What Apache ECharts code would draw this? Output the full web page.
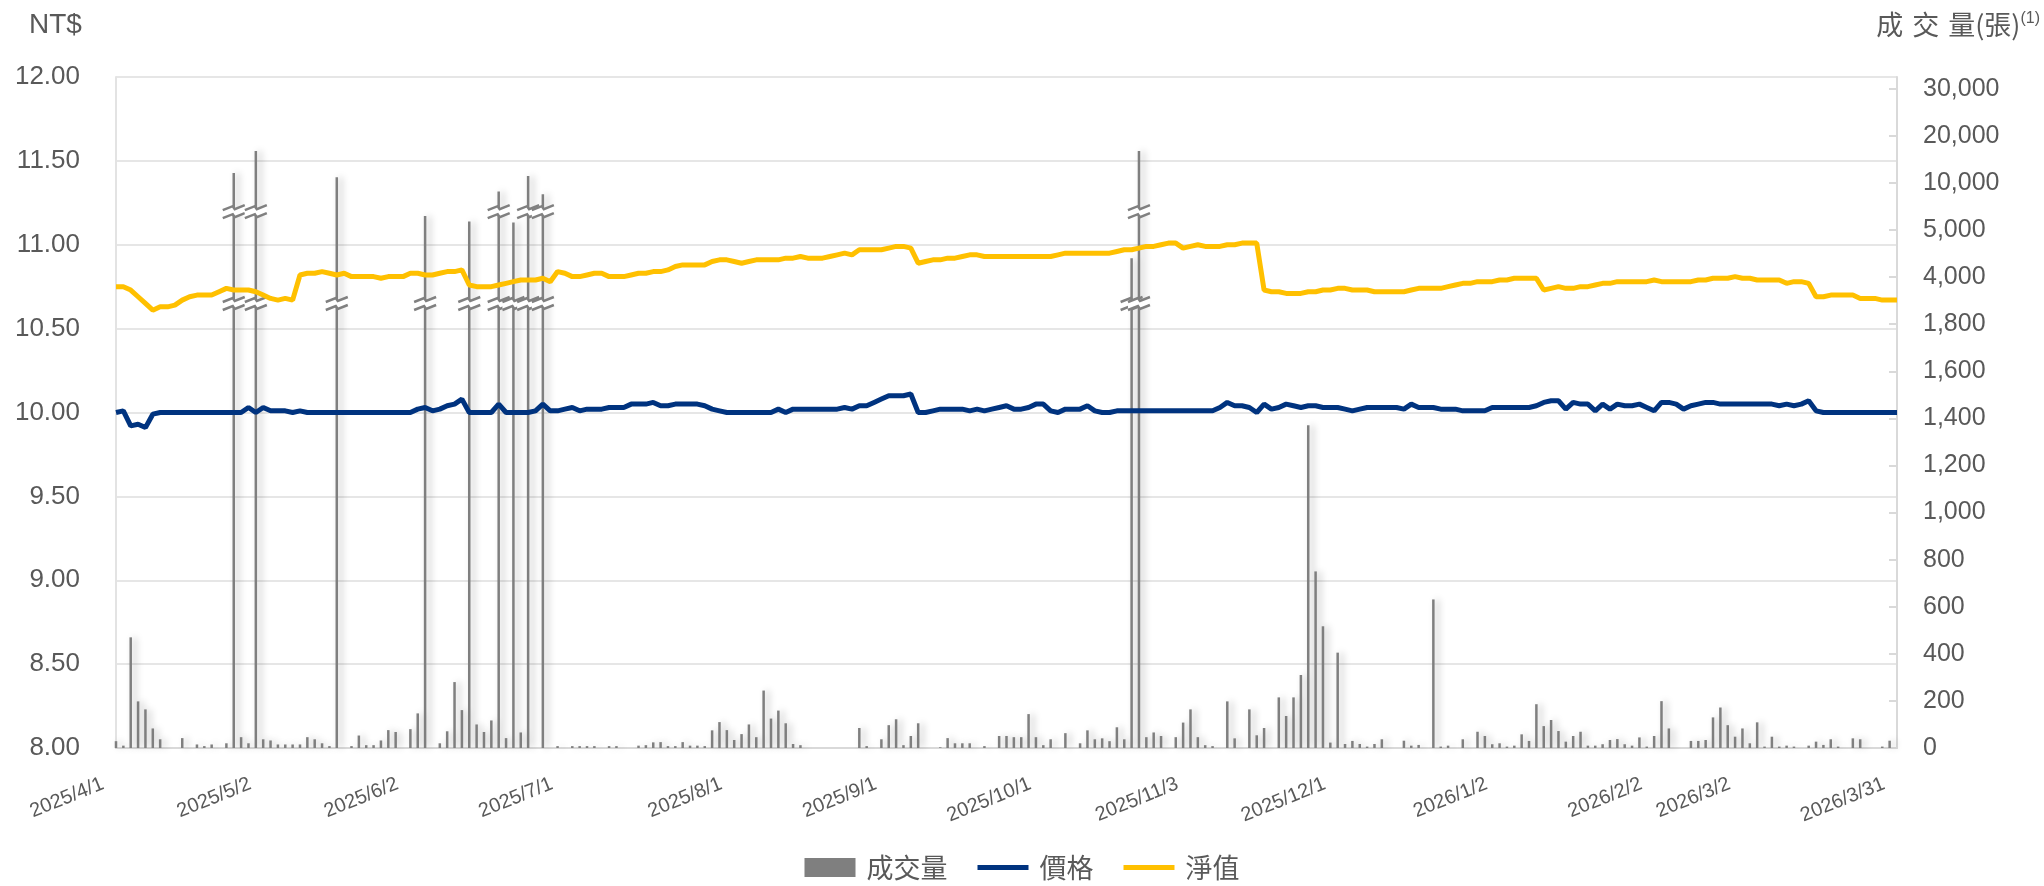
<!DOCTYPE html>
<html>
<head>
<meta charset="utf-8">
<script src="https://cdn.jsdelivr.net/npm/echarts@6/dist/echarts.min.js"></script>
<style>
  html, body { margin: 0; padding: 0; background: #fff; }
  #chart { width: 2044px; height: 886px; }
</style>
</head>
<body>
<div id="chart"></div>
<script>
// 交易日（每月）
const tradingDays = [
  ['2025/4', [1, 2, 7, 8, 9, 10, 11, 14, 15, 16, 17, 18, 21, 22, 23, 24, 25, 28, 29, 30]],
  ['2025/5', [2, 5, 6, 7, 8, 9, 12, 13, 14, 15, 16, 19, 20, 21, 22, 23, 26, 27, 28, 29]],
  ['2025/6', [2, 3, 4, 5, 6, 9, 10, 11, 12, 13, 16, 17, 18, 19, 20, 23, 24, 25, 26, 27, 30]],
  ['2025/7', [1, 2, 3, 4, 7, 8, 9, 10, 11, 14, 15, 16, 17, 18, 21, 22, 23, 24, 25, 28, 29, 30, 31]],
  ['2025/8', [1, 4, 5, 6, 7, 8, 11, 12, 13, 14, 15, 18, 19, 20, 21, 22, 25, 26, 27, 28, 29]],
  ['2025/9', [1, 2, 3, 4, 5, 8, 9, 10, 11, 12, 15, 16, 17, 18, 19, 22, 23, 24, 25, 26, 30]],
  ['2025/10', [1, 2, 3, 7, 8, 9, 13, 14, 15, 16, 17, 20, 21, 22, 23, 27, 28, 29, 30, 31]],
  ['2025/11', [3, 4, 5, 6, 7, 10, 11, 12, 13, 14, 17, 18, 19, 20, 21, 24, 25, 26, 27, 28]],
  ['2025/12', [1, 2, 3, 4, 5, 8, 9, 10, 11, 12, 15, 16, 17, 18, 19, 22, 23, 24, 26, 29, 30, 31]],
  ['2026/1', [2, 5, 6, 7, 8, 9, 12, 13, 14, 15, 16, 19, 20, 21, 22, 23, 26, 27, 28, 29, 30]],
  ['2026/2', [2, 3, 4, 5, 6, 9, 10, 11, 23, 24, 25, 26]],
  ['2026/3', [2, 3, 4, 5, 6, 9, 10, 11, 12, 13, 16, 17, 18, 19, 20, 23, 24, 25, 26, 27, 30, 31]]
];

// x 軸要顯示的日期
const tickDates = ['2025/4/1', '2025/5/2', '2025/6/2', '2025/7/1', '2025/8/1', '2025/9/1', '2025/10/1',
  '2025/11/3', '2025/12/1', '2026/1/2', '2026/2/2', '2026/3/2', '2026/3/31'];

// 價格
const price = [
  10.00, 10.01, 9.92, 9.93, 9.91, 9.99, 10.00, 10.00, 10.00, 10.00, 10.00, 10.00, 10.00, 10.00, 10.00, 10.00, 10.00, 10.00, 10.03, 10.00,
  10.03, 10.01, 10.01, 10.01, 10.00, 10.01, 10.00, 10.00, 10.00, 10.00, 10.00, 10.00, 10.00, 10.00, 10.00, 10.00, 10.00, 10.00, 10.00, 10.00,
  10.00, 10.02, 10.03, 10.01, 10.02, 10.04, 10.05, 10.08, 10.00, 10.00, 10.00, 10.00, 10.05, 10.00, 10.00, 10.00, 10.00, 10.01, 10.05, 10.01, 10.01,
  10.02, 10.03, 10.01, 10.02, 10.02, 10.02, 10.03, 10.03, 10.03, 10.05, 10.05, 10.05, 10.06, 10.04, 10.04, 10.05, 10.05, 10.05, 10.05, 10.04, 10.02, 10.01, 10.00,
  10.00, 10.00, 10.00, 10.00, 10.00, 10.00, 10.02, 10.00, 10.02, 10.02, 10.02, 10.02, 10.02, 10.02, 10.02, 10.03, 10.02, 10.04, 10.04, 10.06, 10.08,
  10.10, 10.10, 10.10, 10.11, 10.00, 10.00, 10.01, 10.02, 10.02, 10.02, 10.02, 10.01, 10.02, 10.01, 10.02, 10.03, 10.04, 10.02, 10.02, 10.03, 10.05,
  10.05, 10.01, 10.00, 10.02, 10.02, 10.02, 10.04, 10.01, 10.00, 10.00, 10.01, 10.01, 10.01, 10.01, 10.01, 10.01, 10.01, 10.01, 10.01, 10.01,
  10.01, 10.01, 10.01, 10.01, 10.03, 10.06, 10.04, 10.04, 10.03, 10.00, 10.05, 10.02, 10.03, 10.05, 10.04, 10.03, 10.04, 10.04, 10.03, 10.03,
  10.03, 10.02, 10.01, 10.02, 10.03, 10.03, 10.03, 10.03, 10.03, 10.02, 10.05, 10.03, 10.03, 10.03, 10.02, 10.02, 10.02, 10.01, 10.01, 10.01, 10.01, 10.03,
  10.03, 10.03, 10.03, 10.03, 10.03, 10.04, 10.06, 10.07, 10.07, 10.02, 10.06, 10.05, 10.05, 10.01, 10.05, 10.02, 10.05, 10.04, 10.04, 10.05, 10.03,
  10.01, 10.06, 10.06, 10.05, 10.02, 10.04, 10.05, 10.06, 10.06, 10.05, 10.05, 10.05,
  10.05, 10.05, 10.05, 10.05, 10.05, 10.04, 10.05, 10.04, 10.05, 10.07, 10.01, 10.00, 10.00, 10.00, 10.00, 10.00, 10.00, 10.00, 10.00, 10.00, 10.00, 10.00
];

// 淨值
const nav = [
  10.75, 10.75, 10.73, 10.69, 10.65, 10.61, 10.63, 10.63, 10.64, 10.67, 10.69, 10.70, 10.70, 10.70, 10.72, 10.74, 10.73, 10.73, 10.73, 10.72,
  10.70, 10.68, 10.67, 10.68, 10.67, 10.82, 10.83, 10.83, 10.84, 10.83, 10.82, 10.83, 10.81, 10.81, 10.81, 10.81, 10.80, 10.81, 10.81, 10.81,
  10.83, 10.83, 10.82, 10.82, 10.83, 10.84, 10.84, 10.85, 10.76, 10.75, 10.75, 10.75, 10.76, 10.77, 10.78, 10.79, 10.79, 10.79, 10.80, 10.78, 10.84,
  10.83, 10.81, 10.81, 10.82, 10.83, 10.83, 10.81, 10.81, 10.81, 10.82, 10.83, 10.83, 10.84, 10.84, 10.85, 10.87, 10.88, 10.88, 10.88, 10.88, 10.90, 10.91, 10.91,
  10.90, 10.89, 10.90, 10.91, 10.91, 10.91, 10.91, 10.92, 10.92, 10.93, 10.92, 10.92, 10.92, 10.93, 10.94, 10.95, 10.94, 10.97, 10.97, 10.97, 10.97,
  10.98, 10.99, 10.99, 10.98, 10.89, 10.90, 10.91, 10.91, 10.92, 10.92, 10.93, 10.94, 10.94, 10.93, 10.93, 10.93, 10.93, 10.93, 10.93, 10.93, 10.93,
  10.93, 10.93, 10.94, 10.95, 10.95, 10.95, 10.95, 10.95, 10.95, 10.95, 10.96, 10.97, 10.97, 10.98, 10.99, 10.99, 11.00, 11.01, 11.01, 10.98,
  10.99, 11.00, 10.99, 10.99, 10.99, 11.00, 11.00, 11.01, 11.01, 11.01, 10.73, 10.72, 10.72, 10.71, 10.71, 10.71, 10.72, 10.72, 10.73, 10.73,
  10.74, 10.74, 10.73, 10.73, 10.73, 10.72, 10.72, 10.72, 10.72, 10.72, 10.73, 10.74, 10.74, 10.74, 10.74, 10.75, 10.76, 10.77, 10.77, 10.78, 10.78, 10.78,
  10.79, 10.79, 10.80, 10.80, 10.80, 10.80, 10.73, 10.74, 10.75, 10.74, 10.74, 10.75, 10.75, 10.76, 10.77, 10.77, 10.78, 10.78, 10.78, 10.78, 10.78,
  10.79, 10.78, 10.78, 10.78, 10.78, 10.78, 10.79, 10.79, 10.80, 10.80, 10.80, 10.81,
  10.80, 10.80, 10.79, 10.79, 10.79, 10.79, 10.77, 10.78, 10.78, 10.77, 10.69, 10.69, 10.70, 10.70, 10.70, 10.70, 10.68, 10.68, 10.68, 10.67, 10.67, 10.67
];

// 成交量（張）
const volume = [
  29, 10, 470, 198, 164, 83, 37, 0, 0, 42, 0, 15, 8, 15, 0, 20, 12100, 46, 20, 16800,
  37, 32, 15, 15, 15, 15, 46, 37, 20, 8, 11200, 0, 8, 53, 12, 12, 32, 76, 68, 0,
  80, 147, 6500, 0, 20, 71, 280, 161, 5900, 100, 68, 117, 9100, 42, 5800, 66, 11500, 0, 8800, 0, 8,
  0, 8, 8, 8, 8, 0, 8, 8, 0, 0, 10, 12, 24, 25, 8, 8, 25, 10, 10, 8, 75, 110, 76,
  34, 59, 100, 46, 244, 125, 159, 105, 17, 12, 0, 0, 0, 0, 0, 0, 0, 85, 8, 0, 37,
  97, 122, 12, 51, 105, 0, 0, 3, 42, 20, 20, 20, 0, 8, 0, 51, 51, 46, 46, 144, 46,
  12, 37, 0, 63, 0, 20, 75, 37, 41, 29, 88, 37, 4400, 16800, 46, 66, 51, 0, 46, 108,
  164, 46, 12, 8, 0, 198, 41, 0, 164, 54, 85, 0, 215, 136, 215, 310, 1371, 750, 517, 23,
  405, 17, 30, 17, 6, 17, 37, 0, 0, 31, 10, 13, 0, 631, 6, 10, 0, 37, 0, 69, 51, 16,
  20, 6, 10, 58, 30, 186, 93, 119, 72, 27, 51, 69, 10, 10, 16, 34, 38, 16, 10, 45, 6,
  51, 199, 83, 0, 0, 30, 30, 34, 130, 172, 97, 48,
  83, 20, 109, 6, 48, 6, 10, 6, 0, 10, 27, 13, 37, 6, 0, 41, 37, 0, 0, 6, 31, 0
];

// 右軸刻度標籤（斷軸）
const volTickLabels = ['0', '200', '400', '600', '800', '1,000', '1,200', '1,400', '1,600', '1,800',
  '4,000', '5,000', '10,000', '20,000', '30,000'];

// 原圖這根柱子只畫了下方的斷軸記號
const noUpperBreak = ['2025/5/16'];

const dates = [];
tradingDays.forEach(([m, days]) => days.forEach(d => dates.push(m + '/' + d)));

// 成交量換算成右軸格數：0-1800 每格 200，1800~4000 斷開一格，4000-5000 一格，
// 5000~10000 斷開一格，10000 以上每格 10000
function volToAxis(v) {
  if (v <= 1800) return v / 200;
  if (v <= 4000) return 9 + (v - 1800) / 2200;
  if (v <= 5000) return 10 + (v - 4000) / 1000;
  if (v <= 10000) return 11 + (v - 5000) / 5000;
  return 12 + (v - 10000) / 10000;
}

const volAxisData = volume.map(volToAxis);

// 斷軸記號
const breakMarks = [];
volAxisData.forEach((u, i) => {
  if (u > 9.8) breakMarks.push([i, 9.45]);
  if (u > 11.6 && noUpperBreak.indexOf(dates[i]) < 0) breakMarks.push([i, 11.4]);
});

const gray = '#595959';
const numFont = "'Liberation Sans', Arial, sans-serif";
const cjkFont = "'Noto Sans CJK TC', 'Noto Sans CJK SC', sans-serif";

var chart = echarts.init(document.getElementById('chart'));
var options = {
  animation: false,
  backgroundColor: '#fff',
  grid: {
    left: 116,
    right: 147,
    top: 77,
    bottom: 138,
    containLabel: false
  },
  legend: {
    bottom: 0,
    left: 'center',
    itemWidth: 51,
    itemHeight: 19,
    itemGap: 30,
    textStyle: { fontSize: 27, color: gray, fontFamily: cjkFont, padding: [0, 0, 0, 6] },
    data: [
      { name: '成交量', icon: 'rect' },
      { name: '價格', icon: 'path://M0,0H10V1H0Z' },
      { name: '淨值', icon: 'path://M0,0H10V1H0Z' }
    ]
  },
  graphic: [
    {
      type: 'text',
      left: 29,
      top: 11,
      style: { text: 'NT$', fontSize: 28, fill: gray, fontFamily: numFont }
    },
    {
      type: 'text',
      right: 4,
      top: 11,
      style: {
        text: '{a|成}{a|交}{b|量(張)}{s|(1)}',
        rich: {
          a: { fontSize: 27, fill: gray, fontFamily: cjkFont, padding: [0, 9, 0, 0] },
          b: { fontSize: 27, fill: gray, fontFamily: cjkFont },
          s: { fontSize: 16, fill: gray, fontFamily: numFont, verticalAlign: 'top', padding: [0, 0, 12, 0] }
        }
      }
    }
  ],
  xAxis: {
    type: 'category',
    data: dates,
    boundaryGap: false,
    axisLine: { lineStyle: { color: '#d9d9d9', width: 2 } },
    axisTick: { show: false },
    axisLabel: {
      interval: (idx, val) => tickDates.indexOf(val) >= 0,
      rotate: 22,
      margin: 30,
      padding: [0, 14, 0, 0],
      fontSize: 20,
      color: gray,
      fontFamily: numFont
    },
    splitLine: { show: false }
  },
  yAxis: [
    {
      type: 'value',
      min: 8,
      max: 12,
      interval: 0.5,
      axisLine: { show: true, lineStyle: { color: '#e3e3e3', width: 2 } },
      axisTick: { show: false },
      axisLabel: {
        formatter: v => v.toFixed(2),
        fontSize: 26,
        color: gray,
        margin: 36,
        fontFamily: numFont
      },
      splitLine: { lineStyle: { color: '#e6e6e6', width: 2 } }
    },
    {
      type: 'value',
      min: 0,
      max: 14.25,
      interval: 1,
      position: 'right',
      axisLine: { show: true, lineStyle: { color: '#d9d9d9', width: 2 } },
      axisTick: {
        show: true,
        inside: true,
        length: 8,
        lineStyle: { color: '#d9d9d9', width: 2 },
        customValues: volTickLabels.map((s, i) => i)
      },
      axisLabel: {
        customValues: volTickLabels.map((s, i) => i),
        formatter: v => volTickLabels[Math.round(v)] || '',
        fontSize: 25,
        color: gray,
        margin: 26,
        fontFamily: numFont
      },
      splitLine: { show: false }
    }
  ],
  series: [
    {
      name: '成交量',
      type: 'bar',
      yAxisIndex: 1,
      data: volAxisData,
      barWidth: 2.5,
      itemStyle: {
        color: '#7f7f7f',
        shadowColor: 'rgba(0,0,0,0.28)',
        shadowBlur: 7,
        shadowOffsetX: 4
      },
      z: 1
    },
    {
      name: 'break',
      type: 'custom',
      yAxisIndex: 1,
      data: breakMarks,
      z: 2,
      renderItem: function (params, api) {
        const p = api.coord([api.value(0), api.value(1)]);
        const x = p[0], y = p[1];
        const stroke = o => [[x - 11, y + o + 3], [x - 1, y + o - 1], [x + 1, y + o + 2], [x + 11, y + o - 2]];
        const s1 = stroke(-4), s2 = stroke(4);
        return {
          type: 'group',
          children: [
            { type: 'polygon', shape: { points: s1.concat(s2.slice().reverse()) }, style: { fill: '#fff' } },
            { type: 'polyline', shape: { points: s1 }, style: { stroke: '#808080', lineWidth: 2.5, fill: null } },
            { type: 'polyline', shape: { points: s2 }, style: { stroke: '#808080', lineWidth: 2.5, fill: null } }
          ]
        };
      }
    },
    {
      name: '價格',
      type: 'line',
      yAxisIndex: 0,
      data: price,
      showSymbol: false,
      symbol: 'none',
      lineStyle: { color: '#00337f', width: 5 },
      itemStyle: { color: '#00337f' },
      z: 3
    },
    {
      name: '淨值',
      type: 'line',
      yAxisIndex: 0,
      data: nav,
      showSymbol: false,
      symbol: 'none',
      lineStyle: { color: '#ffc000', width: 5 },
      itemStyle: { color: '#ffc000' },
      z: 3
    }
  ]
};
chart.setOption(options);
window.addEventListener('resize', function () {
  chart.resize();
});
</script>
</body>
</html>
